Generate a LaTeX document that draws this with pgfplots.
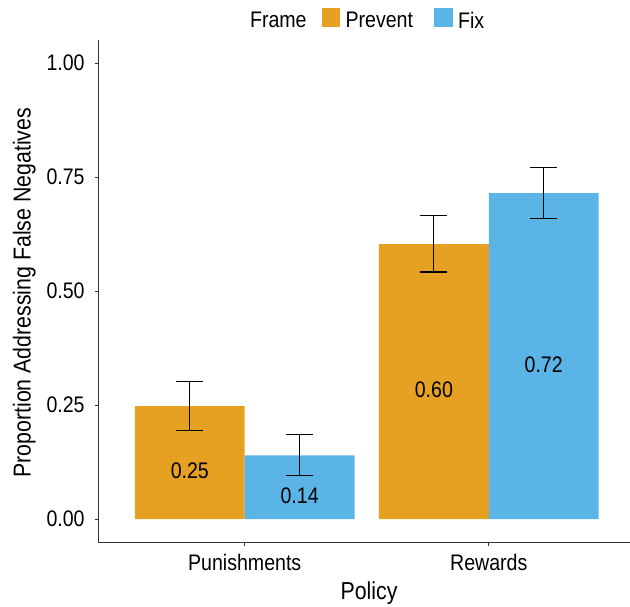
\documentclass[border=0pt]{standalone}
\usepackage{fontspec}
\setmainfont{Liberation Sans}[FakeStretch=0.87]
\usepackage{pgfplots}
\pgfplotsset{compat=1.18}
\definecolor{prevent}{HTML}{E6A022}
\definecolor{fixc}{HTML}{5AB4E6}
\newcommand{\txt}{\fontsize{22.5bp}{26bp}\selectfont}
\newcommand{\ttl}{\fontsize{24.5bp}{28bp}\selectfont}
\begin{document}
\begin{tikzpicture}
\useasboundingbox (-98.3bp,-65bp) rectangle (531.7bp,542bp);
\begin{axis}[
  at={(0,0)}, anchor=south west,
  scale only axis, width=532bp, height=501.6bp,
  xmin=0.4, xmax=2.58, ymin=-0.05, ymax=1.05,
  axis x line*=bottom, axis y line*=left,
  axis line style={-, line width=1bp, black!80},
  tick align=outside, major tick length=3.5bp,
  tick style={line width=1bp, black!80},
  xtick={1,2}, xticklabels={Punishments,Rewards},
  ytick={0,0.25,0.5,0.75,1},
  scaled y ticks=false,
  /pgf/number format/assume math mode=true,
  tick label style={font=\txt},
  yticklabel style={/pgf/number format/fixed, /pgf/number format/fixed zerofill, /pgf/number format/precision=2, inner sep=0pt, xshift=-10bp},
  xticklabel style={anchor=base, yshift=-25.2bp},
  xlabel={Policy}, ylabel={Proportion Addressing False Negatives},
  xlabel style={at={(axis description cs:0.509,-0.1156)}, anchor=base, font=\ttl},
  ylabel style={at={(axis description cs:-0.127,0.497)}, anchor=base, font=\ttl},
  legend style={draw=none, fill=none, inner sep=0pt, outer sep=0pt,
    at={(axis description cs:0.2749,1.0427)}, anchor=west,
    legend columns=-1, font=\txt, nodes={inner sep=0pt},
    /tikz/every odd column/.append style={column sep=5.5bp},
    /tikz/every even column/.append style={column sep=15bp}},
  legend cell align=left,
]
\addlegendimage{empty legend}
\addlegendentry{Frame}
\addplot[ybar, bar width=0.45, bar shift=-0.225, fill=prevent, draw=none,
  legend image code/.code={\fill[prevent] (0bp,-6bp) rectangle (18.5bp,12.5bp);}]
 coordinates {(1,0.248) (2,0.603)};
\addlegendentry{Prevent}
\addplot[ybar, bar width=0.45, bar shift=0.225, fill=fixc, draw=none,
  legend image code/.code={\path (0bp,0bp); \fill[fixc] (6bp,-6bp) rectangle (24.5bp,12.5bp);}]
 coordinates {(1,0.140) (2,0.715)};
\addlegendentry{Fix}
\addplot[forget plot, draw=none, mark=none,
  error bars/.cd, y dir=both, y explicit,
  error bar style={draw=black, line width=1.1bp},
  error mark options={rotate=90, draw=black, line width=1.1bp, mark size=13.5bp}]
 coordinates {(0.775,0.248) += (0,0.0546) -= (0,0.053) (1.775,0.603) += (0,0.063) -= (0,0.061)
              (1.225,0.140) += (0,0.045) -= (0,0.0435) (2.225,0.715) += (0,0.056) -= (0,0.056)};
\addplot[draw=none, mark=none, forget plot, nodes near coords, point meta=explicit symbolic,
  every node near coord/.append style={anchor=north, inner sep=0pt, font=\txt, text=black}]
 table[meta=lab, row sep=\\] {x y lab\\ 0.775 0.124 0.25\\ 1.225 0.070 0.14\\ 1.775 0.3015 0.60\\ 2.225 0.3575 0.72\\};
\end{axis}
\end{tikzpicture}
\end{document}
